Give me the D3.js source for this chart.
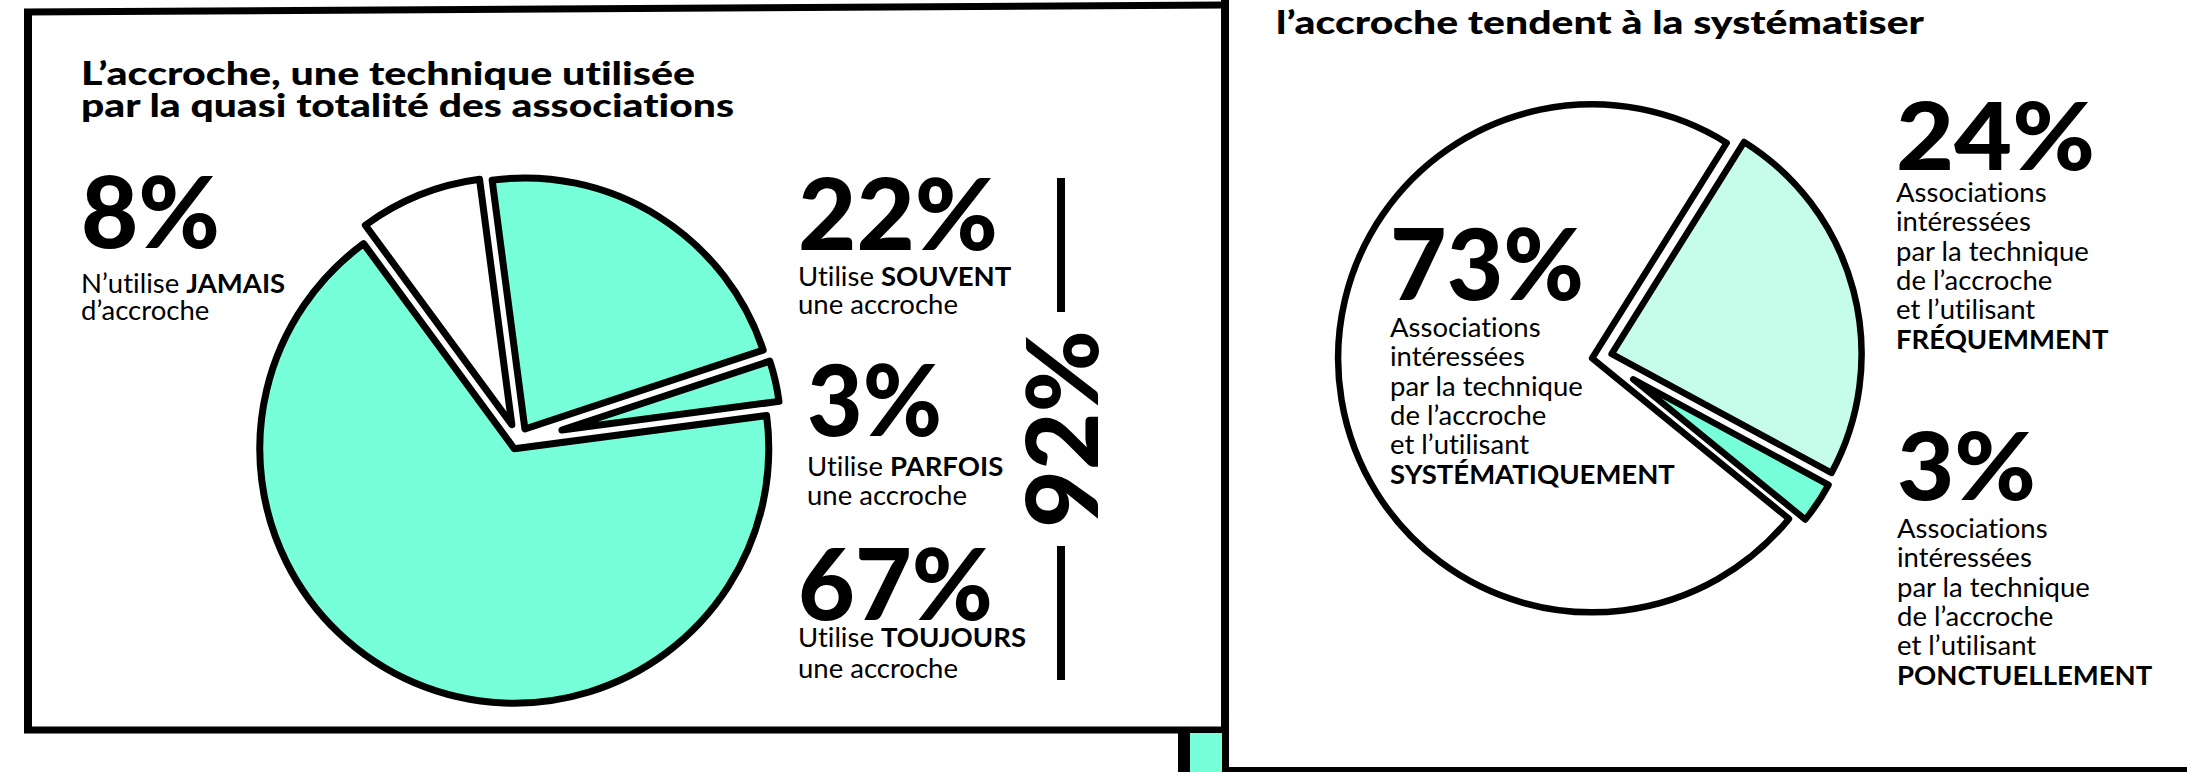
<!DOCTYPE html>
<html lang="fr">
<head>
<meta charset="utf-8">
<script src="https://cdn.jsdelivr.net/npm/d3@7"></script>
<style>
  html, body { margin: 0; padding: 0; background: #fff; }
  svg { display: block; }
  text { font-family: Lato, "Open Sans", sans-serif; fill: #000; font-variant-ligatures: none; }
</style>
</head>
<body>
<svg id="graphique" width="2187" height="772"></svg>
<script>
// DONNÉES

// Graphique de gauche : fréquence d'utilisation de l'accroche
const gaucheCategories = ["SOUVENT", "PARFOIS", "TOUJOURS", "JAMAIS"];
const gaucheValeurs = [22, 3, 67, 8];
const gaucheDebut = ["Utilise", "Utilise", "Utilise", "N’utilise"];
const gaucheFin = ["une accroche", "une accroche", "une accroche", "d’accroche"];
const titreGauche = ["L’accroche, une technique utilisée", "par la quasi totalité des associations"];

// Graphique de droite : associations intéressées par la technique
const droiteCategories = ["FRÉQUEMMENT", "PONCTUELLEMENT", "SYSTÉMATIQUEMENT"];
const droiteValeurs = [24, 3, 73];
const droiteLignes = ["Associations", "intéressées", "par la technique", "de l’accroche", "et l’utilisant"];
const titreDroite = ["l’accroche tendent à la systématiser"];

// STYLES
const MENTHE = "#77ffda";
const MENTHE_CLAIR = "#c5fcea";
const NOIR = "#000";
const gaucheCouleurs = [MENTHE, MENTHE, MENTHE, "#fff"];
const droiteCouleurs = [MENTHE_CLAIR, MENTHE, "#fff"];

const svg = d3.select("#graphique");
const deg = Math.PI / 180;

// Cadres
const cadres = svg.append("g").attr("fill", "none").attr("stroke", NOIR);
cadres.append("path").attr("d", "M24,12 L1225,5").attr("stroke-width", 7);
cadres.append("path").attr("d", "M28,9 L28,733").attr("stroke-width", 8);
cadres.append("path").attr("d", "M24,730 L1225,730").attr("stroke-width", 7);
svg.append("rect").attr("x", 1190).attr("y", 733).attr("width", 32).attr("height", 40).attr("fill", MENTHE);
cadres.append("path").attr("d", "M1184,733 L1184,772").attr("stroke-width", 12);
cadres.append("path").attr("d", "M1225,0 L1225,772").attr("stroke-width", 8);
cadres.append("path").attr("d", "M1225,770 L2187,770").attr("stroke-width", 6);

// Camembert avec parts décalées le long de leur bissectrice
function camembert(cx, cy, valeurs, couleurs, opts) {
    const pie = d3.pie().sort(null)
        .startAngle(opts.debut)
        .endAngle(opts.debut + 2 * Math.PI);
    const g = svg.append("g").attr("transform", `translate(${cx},${cy})`);

    g.selectAll("path")
        .data(pie(valeurs))
        .join("path")
        .attr("transform", (d, i) => {
            const milieu = (d.startAngle + d.endAngle) / 2;
            const e = opts.eclat[i];
            return `translate(${Math.sin(milieu) * e},${-Math.cos(milieu) * e})`;
        })
        .attr("d", (d, i) => d3.arc().innerRadius(0).outerRadius(opts.rayon - opts.eclat[i])(d))
        .attr("fill", (d, i) => couleurs[i])
        .attr("stroke", NOIR)
        .attr("stroke-width", opts.trait)
        .attr("stroke-linejoin", "round");
}

camembert(518, 440, gaucheValeurs, gaucheCouleurs, {
    debut: -7.5 * deg, rayon: 264, eclat: [13, 45, 9.5, 16.5], trait: 7
});
camembert(1600, 357, droiteValeurs, droiteCouleurs, {
    debut: 32 * deg, rayon: 262, eclat: [12, 40, 8], trait: 6.5
});

// Titres
function titre(x, y0, lignes, largeurs) {
    lignes.forEach((l, i) => {
        svg.append("text")
            .attr("x", x).attr("y", y0 + i * 32)
            .attr("font-weight", 900)
            .attr("font-size", 32)
            .attr("textLength", largeurs[i])
            .attr("lengthAdjust", "spacingAndGlyphs")
            .text(l);
    });
}
titre(81, 85, titreGauche, [614, 653]);
titre(1276, 34, titreDroite, [648]);

// Gros pourcentages (largeur calée sur la maquette)
function nombre(x, y, v, taille, largeur) {
    return svg.append("text")
        .attr("x", x).attr("y", y)
        .attr("font-weight", 900)
        .attr("font-size", taille)
        .attr("textLength", largeur)
        .attr("lengthAdjust", "spacingAndGlyphs")
        .text(`${v}%`);
}

// Étiquettes de gauche
const posGauche = [
    { x: 798, yN: 250, yL: [286, 314], l: 200 },
    { x: 807, yN: 436, yL: [476, 505], l: 135 },
    { x: 798, yN: 620, yL: [647, 678], l: 195 },
    { x: 81, yN: 248, yL: [293, 320], l: 139 }
];
gaucheValeurs.forEach((v, i) => {
    const p = posGauche[i];
    nombre(p.x, p.yN, v, 99, p.l);
    const t1 = svg.append("text").attr("x", p.x).attr("y", p.yL[0]).attr("font-size", 27.5);
    t1.append("tspan").text(gaucheDebut[i] + " ");
    t1.append("tspan").attr("font-weight", 700).text(gaucheCategories[i]);
    svg.append("text").attr("x", p.x).attr("y", p.yL[1]).attr("font-size", 27.5).text(gaucheFin[i]);
});

// Total des utilisateurs (souvent + parfois + toujours)
const total = d3.sum(gaucheValeurs.slice(0, 3));
svg.append("text")
    .attr("transform", "translate(1098,429) rotate(-90)")
    .attr("text-anchor", "middle")
    .attr("font-weight", 900)
    .attr("font-size", 99)
    .attr("textLength", 198)
    .attr("lengthAdjust", "spacingAndGlyphs")
    .text(`${total}%`);
cadres.append("path").attr("d", "M1061,178 L1061,312 M1061,546 L1061,680").attr("stroke-width", 8);

// Étiquettes de droite
const posDroite = [
    { x: 1896, yN: 170, yL: 202, taille: 93, l: 199 },
    { x: 1897, yN: 500, yL: 538, taille: 93, l: 139 },
    { x: 1390, yN: 300, yL: 337, taille: 99, l: 194 }
];
droiteValeurs.forEach((v, i) => {
    const p = posDroite[i];
    nombre(p.x, p.yN, v, p.taille, p.l);
    droiteLignes.concat([droiteCategories[i]]).forEach((l, j) => {
        svg.append("text")
            .attr("x", p.x).attr("y", p.yL + j * 29.3)
            .attr("font-size", 27.5)
            .attr("font-weight", j === droiteLignes.length ? 700 : 400)
            .text(l);
    });
});
</script>
</body>
</html>
